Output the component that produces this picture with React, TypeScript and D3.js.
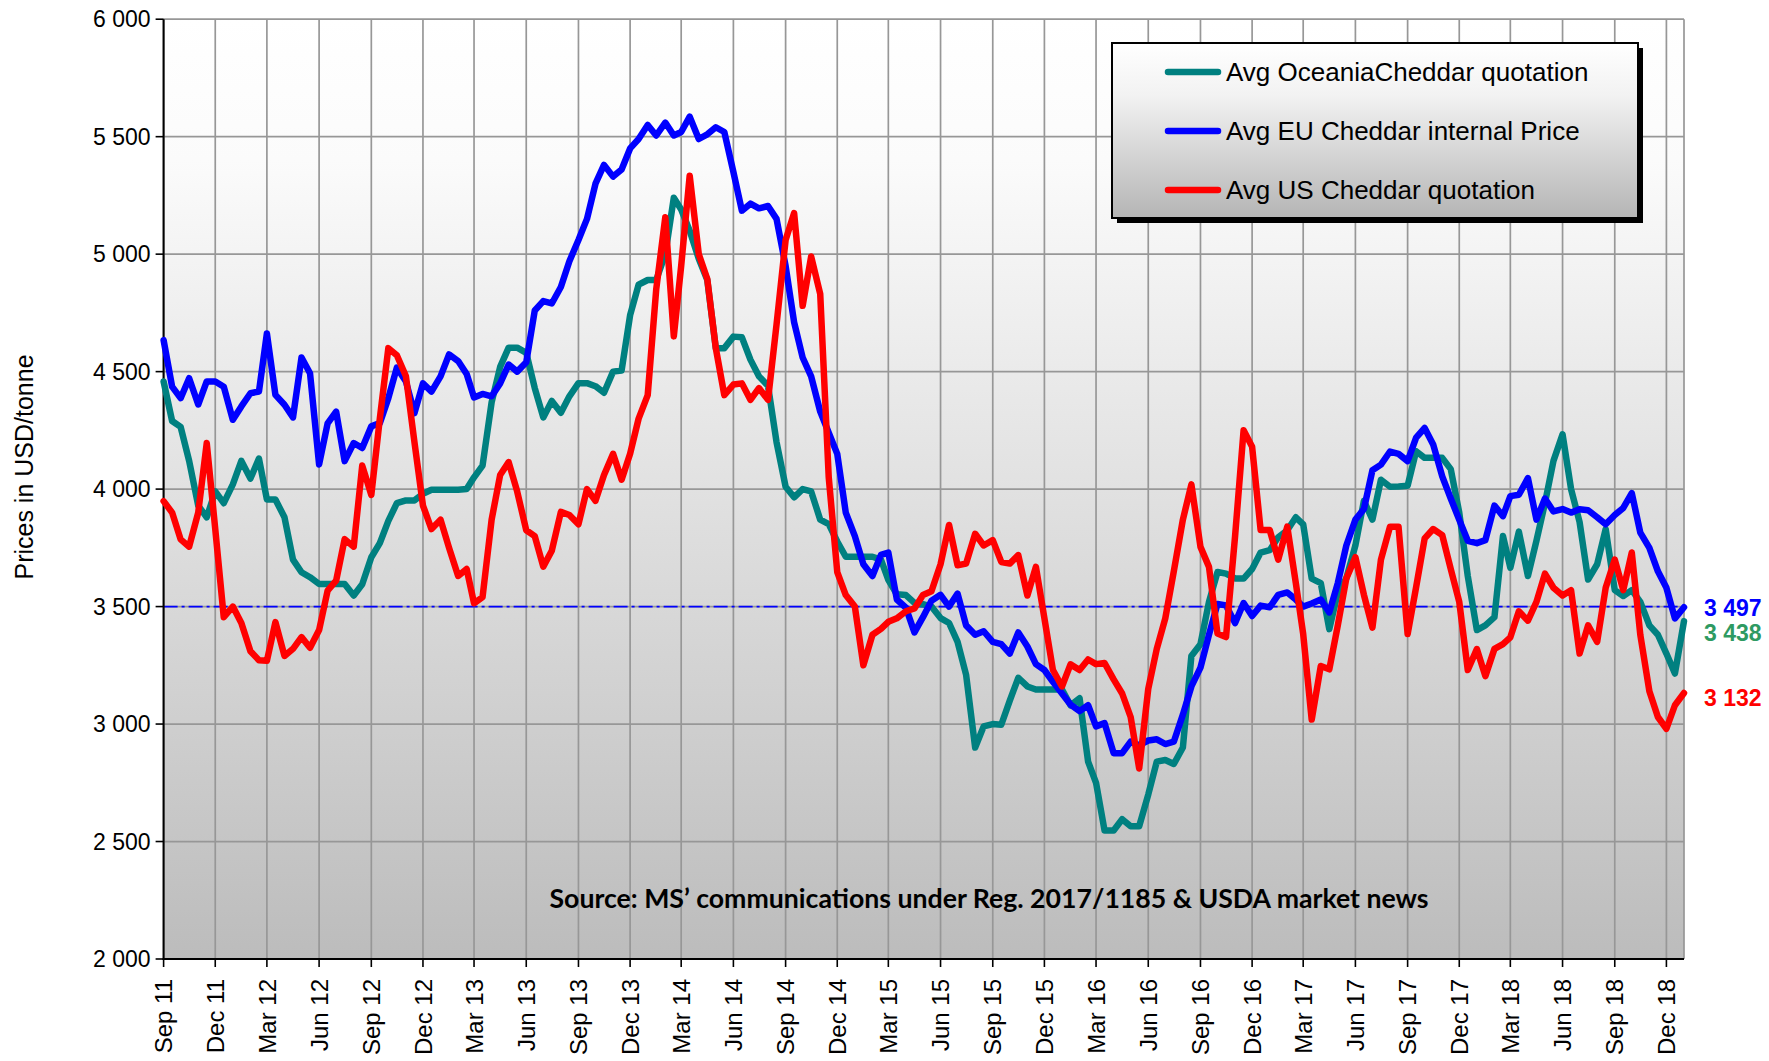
import React from "react";
import * as d3 from "d3";

// Semi-monthly observations (1st and 16th of each month), starting 1 Sep 2011
const oceania = [
  4458, 4290, 4265, 4120, 3930, 3880, 3990, 3940, 4020, 4120, 4045, 4130, 3956, 3956, 3880, 3700,
  3646, 3625, 3596, 3596, 3596, 3596, 3547, 3595, 3710, 3770, 3865, 3940, 3952, 3952, 3980, 3997,
  3997, 3997, 3997, 4000, 4050, 4100, 4370, 4520, 4602, 4602, 4580, 4430, 4305, 4375, 4325, 4395,
  4451, 4451, 4438, 4410, 4500, 4505, 4740, 4870, 4890, 4890, 5000, 5240, 5190, 5100, 4980, 4890,
  4600, 4600, 4649, 4646, 4551, 4480, 4440, 4200, 4010, 3965, 4000, 3990, 3870, 3851, 3777, 3712,
  3712, 3712, 3712, 3700, 3614, 3552, 3549, 3516, 3510, 3500, 3451, 3430, 3350, 3210, 2900, 2990,
  3000, 2997, 3100, 3197, 3160, 3147, 3147, 3147, 3147, 3080, 3110, 2840, 2750, 2547, 2547, 2595,
  2565, 2565, 2700, 2840, 2847, 2830, 2900, 3290, 3340, 3520, 3647, 3640, 3620, 3619, 3660, 3730,
  3740, 3795, 3825, 3880, 3850, 3619, 3600, 3404, 3560, 3620, 3760, 3950, 3870, 4040, 4010, 4011,
  4014, 4161, 4133, 4133, 4133, 4085, 3900, 3630, 3400, 3420, 3455, 3800, 3665, 3819, 3630, 3780,
  3940, 4120, 4233, 4000, 3860, 3615, 3680, 3830, 3570, 3545, 3570, 3520, 3420, 3380, 3300, 3215,
  3438,
];

const eu = [
  4634, 4436, 4387, 4472, 4360, 4458, 4458, 4436, 4295, 4352, 4408, 4415, 4662, 4401, 4359, 4305,
  4560, 4493, 4105, 4280, 4330, 4119, 4196, 4175, 4267, 4281, 4387, 4517, 4458, 4323, 4450, 4415,
  4480, 4573, 4545, 4490, 4390, 4405, 4395, 4450, 4530, 4500, 4540, 4760, 4800, 4790, 4860, 4970,
  5060, 5150, 5300, 5380, 5330, 5360, 5450, 5490, 5550, 5505, 5560, 5505, 5520, 5585, 5490, 5510,
  5540, 5520, 5350, 5185, 5215, 5195, 5205, 5150, 4950, 4710, 4560, 4480, 4330, 4240, 4150, 3900,
  3800, 3680, 3630, 3720, 3730, 3530, 3495, 3390, 3455, 3525, 3550, 3500, 3555, 3420, 3380, 3395,
  3350, 3340, 3300, 3390, 3330, 3255, 3230, 3180, 3130, 3083, 3055, 3080, 2990, 3004, 2876, 2876,
  2925, 2910, 2930, 2935, 2915, 2925, 3040, 3160, 3240, 3380, 3511, 3505, 3430, 3515, 3460, 3504,
  3497, 3550, 3560, 3530, 3500, 3513, 3530, 3475, 3600, 3760, 3870, 3915, 4080, 4104, 4160, 4150,
  4119, 4219, 4260, 4190, 4054, 3960, 3869, 3780, 3770, 3783, 3930, 3885, 3970, 3976, 4047, 3870,
  3960, 3905, 3915, 3900, 3914, 3910, 3880, 3850, 3890, 3920, 3983, 3815, 3750, 3650, 3580, 3450,
  3497,
];

const us = [
  3949, 3900, 3786, 3755, 3900, 4196, 3830, 3455, 3500, 3430, 3310, 3272, 3269, 3434, 3290, 3320,
  3370, 3325, 3400, 3568, 3610, 3787, 3755, 4100, 3975, 4300, 4600, 4570, 4480, 4200, 3930, 3830,
  3870, 3750, 3630, 3660, 3514, 3540, 3870, 4060, 4115, 3990, 3825, 3800, 3670, 3738, 3903, 3890,
  3850, 4000, 3950, 4060, 4150, 4040, 4150, 4300, 4400, 4850, 5157, 4650, 4950, 5334, 5000, 4894,
  4600, 4400, 4445, 4450, 4380, 4430, 4380, 4700, 5060, 5175, 4780, 4990, 4830, 4050, 3647, 3549,
  3500, 3250, 3380, 3405, 3435, 3450, 3480, 3492, 3549, 3565, 3680, 3847, 3676, 3683, 3810, 3760,
  3783, 3690, 3683, 3719, 3547, 3669, 3450, 3230, 3160, 3254, 3230, 3275, 3255, 3260, 3190, 3130,
  3030, 2811, 3150, 3320, 3450, 3650, 3870, 4020, 3754, 3669, 3385, 3370, 3800, 4250, 4180, 3826,
  3826, 3700, 3840, 3600, 3383, 3019, 3247, 3233, 3420, 3620, 3710, 3550, 3410, 3700, 3840, 3840,
  3383, 3583, 3790, 3830, 3804, 3660, 3520, 3230, 3319, 3204, 3320, 3340, 3369, 3480, 3440, 3520,
  3640, 3580, 3547, 3570, 3300, 3420, 3350, 3580, 3700, 3570, 3730, 3380, 3140, 3030, 2980, 3080,
  3132,
];

const seriesNames = [
  "Avg OceaniaCheddar quotation",
  "Avg EU Cheddar internal Price",
  "Avg US Cheddar quotation",
];
const seriesColors = ["#008080", "#0000ff", "#ff0000"];
const seriesData = [oceania, eu, us];

const yTicks = [2000, 2500, 3000, 3500, 4000, 4500, 5000, 5500, 6000];
const xTickLabels = [
  "Sep 11", "Dec 11", "Mar 12", "Jun 12", "Sep 12", "Dec 12", "Mar 13", "Jun 13", "Sep 13", "Dec 13",
  "Mar 14", "Jun 14", "Sep 14", "Dec 14", "Mar 15", "Jun 15", "Sep 15", "Dec 15", "Mar 16", "Jun 16",
  "Sep 16", "Dec 16", "Mar 17", "Jun 17", "Sep 17", "Dec 17", "Mar 18", "Jun 18", "Sep 18", "Dec 18",
];
const refLevel = 3500;
const endLabels = ["3 497", "3 438", "3 132"];
const endLabelColors = ["#0000ff", "#2e9a62", "#ff0000"];
const sourceText = "Source: MS\u2019 communications under Reg. 2017/1185  & USDA market news";
const yTitle = "Prices in USD/tonne";

const W = 1769;
const H = 1061;
const L = 163.6;
const R = 1684;
const T = 19.2;
const B = 959;

const dates = oceania.map((_, i) => new Date(2011, 8 + Math.floor(i / 2), i % 2 ? 16 : 1));
const parseTick = d3.timeParse("%b %y");
const fmt = d3.formatLocale({ decimal: ".", thousands: " ", grouping: [3], currency: ["", ""] }).format(",");

const FONT = "'Liberation Sans', Arial, sans-serif";

export default function App() {
  const x = d3.scaleTime().domain([dates[0], dates[dates.length - 1]]).range([L, R]);
  const y = d3.scaleLinear().domain([2000, 6000]).range([B, T]);
  const line = d3
    .line<number>()
    .x((_, i) => x(dates[i]))
    .y((d) => y(d));

  const legendY = [72, 131, 190];
  const lgX = 1112;
  const lgY = 43;
  const lgW = 526;
  const lgH = 175;

  return (
    <svg
      width={W}
      height={H}
      style={{ position: "absolute", left: 0, top: 0, background: "#fff" }}
      fontFamily={FONT}
    >
      <defs>
        <linearGradient id="bg" x1="0" y1="0" x2="0" y2="1">
          <stop offset="0" stopColor="#ffffff" />
          <stop offset="0.15" stopColor="#fbfbfb" />
          <stop offset="1" stopColor="#bcbcbc" />
        </linearGradient>
        <linearGradient id="lg" x1="0" y1="0" x2="0" y2="1">
          <stop offset="0" stopColor="#ffffff" />
          <stop offset="0.3" stopColor="#f2f2f2" />
          <stop offset="1" stopColor="#b5b5b5" />
        </linearGradient>
      </defs>
      <rect x={L} y={T} width={R - L} height={B - T} fill="url(#bg)" />
      {/* horizontal grid */}
      {yTicks.map((t) => (
        <line key={"h" + t} x1={L} x2={R} y1={y(t)} y2={y(t)} stroke="#979797" strokeWidth={1.7} />
      ))}
      {/* vertical grid */}
      {xTickLabels.map((lab) => {
        const xx = x(parseTick(lab) as Date);
        return <line key={"v" + lab} x1={xx} x2={xx} y1={T} y2={B} stroke="#979797" strokeWidth={1.7} />;
      })}
      <line x1={R} x2={R} y1={T} y2={B} stroke="#979797" strokeWidth={1.7} />
      {/* reference line */}
      <line
        x1={L}
        x2={R}
        y1={y(refLevel)}
        y2={y(refLevel)}
        stroke="#0000ff"
        strokeWidth={1.7}
        strokeDasharray="14,4,3,4"
      />
      {/* axes */}
      <line x1={L} x2={L} y1={T} y2={B + 1} stroke="#000" strokeWidth={2} />
      <line x1={L - 1} x2={R} y1={B} y2={B} stroke="#000" strokeWidth={2} />
      {yTicks.map((t) => (
        <g key={"yt" + t}>
          <line x1={L - 8} x2={L} y1={y(t)} y2={y(t)} stroke="#000" strokeWidth={1.6} />
          <text x={L - 13} y={y(t)} dy="0.36em" textAnchor="end" fontSize={23} fill="#000">
            {fmt(t)}
          </text>
        </g>
      ))}
      {xTickLabels.map((lab) => {
        const xx = x(parseTick(lab) as Date);
        return (
          <g key={"xt" + lab}>
            <line x1={xx} x2={xx} y1={B} y2={B + 8} stroke="#000" strokeWidth={1.6} />
            <text
              transform={`translate(${xx},${B + 20}) rotate(-90)`}
              dy="0.36em"
              textAnchor="end"
              fontSize={24}
              fill="#000"
            >
              {lab}
            </text>
          </g>
        );
      })}
      <text
        transform={`translate(24,467) rotate(-90)`}
        dy="0.36em"
        textAnchor="middle"
        fontSize={25}
        fill="#000"
      >
        {yTitle}
      </text>
      {/* series */}
      {seriesData.map((s, k) => (
        <path
          key={"s" + k}
          d={line(s) || ""}
          fill="none"
          stroke={seriesColors[k]}
          strokeWidth={6.5}
          strokeLinejoin="round"
          strokeLinecap="round"
        />
      ))}
      {/* source */}
      <text
        x={989}
        y={908}
        textAnchor="middle"
        fontFamily="Lato, 'Open Sans', sans-serif"
        fontWeight="bold"
        fontSize={26}
        textLength={879}
        lengthAdjust="spacingAndGlyphs"
        fill="#000"
      >
        {sourceText}
      </text>
      {/* end labels */}
      <text x={1704} y={y(eu[eu.length - 1])} dy="0.36em" fontSize={23} fontWeight="bold" fill={endLabelColors[0]}>
        {endLabels[0]}
      </text>
      <text x={1704} y={y(eu[eu.length - 1]) + 25} dy="0.36em" fontSize={23} fontWeight="bold" fill={endLabelColors[1]}>
        {endLabels[1]}
      </text>
      <text x={1704} y={y(us[us.length - 1]) + 5} dy="0.36em" fontSize={23} fontWeight="bold" fill={endLabelColors[2]}>
        {endLabels[2]}
      </text>
      {/* legend */}
      <rect x={lgX + 5} y={lgY + 5} width={lgW} height={lgH} fill="#000" />
      <rect x={lgX} y={lgY} width={lgW} height={lgH} fill="url(#lg)" stroke="#000" strokeWidth={2} />
      {seriesNames.map((n, k) => (
        <g key={"lg" + k}>
          <line
            x1={1168}
            x2={1218}
            y1={legendY[k]}
            y2={legendY[k]}
            stroke={seriesColors[k]}
            strokeWidth={6.5}
            strokeLinecap="round"
          />
          <text x={1226} y={legendY[k]} dy="0.36em" fontSize={26} fill="#000">
            {n}
          </text>
        </g>
      ))}
    </svg>
  );
}
